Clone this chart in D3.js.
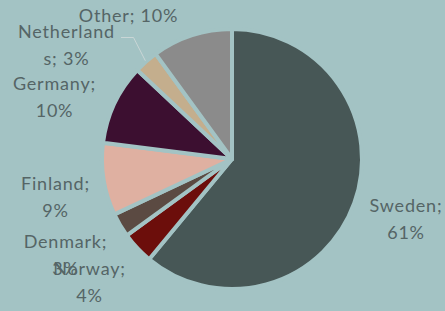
<!DOCTYPE html>
<html><head><meta charset="utf-8">
<script src="https://cdn.jsdelivr.net/npm/d3@7"></script>
<style>html,body{margin:0;padding:0;background:#a3c3c4;overflow:hidden}</style>
</head><body>
<svg id="chart" width="445" height="311"></svg>
<script>
const categories = ["Sweden", "Norway", "Denmark", "Finland", "Germany", "Netherlands", "Other"];
const values = [61, 4, 3, 9, 10, 3, 10];
const colors = ["#475756", "#6c0e0b", "#5b4a42", "#dfb0a1", "#3c0f30", "#c4ae8d", "#8b8b8b"];
const labelLines = [["Sweden;", "61%"], ["Norway;", "4%"], ["Denmark;", "3%"], ["Finland;", "9%"], ["Germany;", "10%"], ["Netherland", "s; 3%"], ["Other; 10%"]];

// layout (label anchor: center x, first baseline)
const labelPos = [[406, 212], [89.5, 274.5], [65.5, 248], [55.5, 189.5], [54.5, 90], [66.5, 37.5], [128.5, 21.5]];
const bg = "#a3c3c4";
const cx = 232, cy = 159, R = 130;

const svg = d3.select("#chart");
svg.append("rect").attr("width", 445).attr("height", 311).attr("fill", bg);

const pie = d3.pie().sort(null).value(d => d.v);
const data = categories.map((c, i) => ({c, v: values[i], col: colors[i], lines: labelLines[i], pos: labelPos[i]}));
const arcs = pie(data);
const arc = d3.arc().innerRadius(0).outerRadius(R);

const g = svg.append("g").attr("transform", `translate(${cx},${cy})`);
g.selectAll("path").data(arcs).join("path")
  .attr("d", arc)
  .attr("fill", d => d.data.col)
  .attr("stroke", bg)
  .attr("stroke-width", 4)
  .attr("stroke-linejoin", "round");

// leader line for Netherlands
const nl = arcs[5];
const mid = (nl.startAngle + nl.endAngle) / 2;
const edge = [cx + Math.sin(mid) * (R + 1), cy - Math.cos(mid) * (R + 1)];
svg.append("path")
  .attr("d", d3.line()([[121, 37.5], [133.5, 37.5], edge]))
  .attr("fill", "none").attr("stroke", "#c9d6d6").attr("stroke-width", 1);

const lab = svg.append("g")
  .attr("font-family", "Lato, 'Open Sans', sans-serif")
  .attr("font-size", 18)
  .attr("letter-spacing", 0.8)
  .attr("fill", "#556566")
  .attr("text-anchor", "middle");
data.forEach(d => {
  d.lines.forEach((t, j) => {
    lab.append("text").attr("x", d.pos[0]).attr("y", d.pos[1] + j * 27).text(t);
  });
});
</script>
</body></html>
